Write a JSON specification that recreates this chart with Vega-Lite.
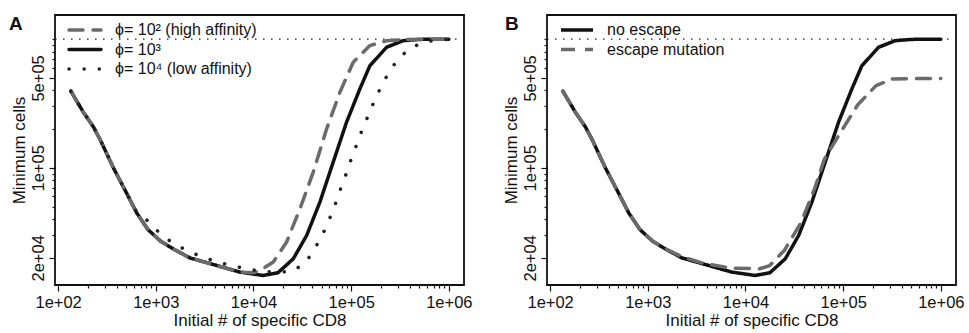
{
  "$schema": "https://vega.github.io/schema/vega-lite/v6.json",
  "padding": {"left": 8, "top": 14, "right": 0, "bottom": 0},
  "spacing": 28,
  "config": {
    "font": "Liberation Sans",
    "view": {"stroke": "#111111", "strokeWidth": 1.8},
    "axis": {
      "labelFont": "Liberation Sans", "labelFontSize": 16.5, "labelColor": "#111111",
      "titleFont": "Liberation Sans", "titleFontSize": 17, "titleFontWeight": "normal", "titleColor": "#111111",
      "tickColor": "#111111", "tickWidth": 1.2, "domain": false, "grid": false,
      "labelOverlap": false, "labelFlush": false, "labelBound": false
    },
    "legend": {
      "labelFont": "Liberation Sans", "labelFontSize": 16, "labelColor": "#111111"
    },
    "title": {"fontSize": 19, "fontWeight": "bold", "anchor": "start", "frame": "group", "offset": 0, "baseline": "alphabetic", "color": "#111111", "font": "Liberation Sans"}
  },
  "datasets": {
    "a": [
      {"series": "ϕ= 10³", "x": 135, "y": 394457},
      {"series": "ϕ= 10³", "x": 182, "y": 269153},
      {"series": "ϕ= 10³", "x": 229, "y": 208930},
      {"series": "ϕ= 10³", "x": 269, "y": 165959},
      {"series": "ϕ= 10³", "x": 368, "y": 100000},
      {"series": "ϕ= 10³", "x": 505, "y": 63096},
      {"series": "ϕ= 10³", "x": 638, "y": 44668},
      {"series": "ϕ= 10³", "x": 832, "y": 33113},
      {"series": "ϕ= 10³", "x": 1122, "y": 26915},
      {"series": "ϕ= 10³", "x": 1514, "y": 23442},
      {"series": "ϕ= 10³", "x": 2239, "y": 19953},
      {"series": "ϕ= 10³", "x": 3631, "y": 17989},
      {"series": "ϕ= 10³", "x": 7244, "y": 15488},
      {"series": "ϕ= 10³", "x": 12589, "y": 14588},
      {"series": "ϕ= 10³", "x": 17783, "y": 15311},
      {"series": "ϕ= 10³", "x": 25527, "y": 19634},
      {"series": "ϕ= 10³", "x": 34995, "y": 29785},
      {"series": "ϕ= 10³", "x": 47863, "y": 54200},
      {"series": "ϕ= 10³", "x": 65464, "y": 110662},
      {"series": "ϕ= 10³", "x": 89743, "y": 226464},
      {"series": "ϕ= 10³", "x": 122744, "y": 410204},
      {"series": "ϕ= 10³", "x": 155597, "y": 622300},
      {"series": "ϕ= 10³", "x": 230675, "y": 864968},
      {"series": "ϕ= 10³", "x": 341193, "y": 972747},
      {"series": "ϕ= 10³", "x": 501187, "y": 995405},
      {"series": "ϕ= 10³", "x": 1000000, "y": 1000000},

      {"series": "ϕ= 10² (high affinity)", "x": 135, "y": 394457},
      {"series": "ϕ= 10² (high affinity)", "x": 182, "y": 269153},
      {"series": "ϕ= 10² (high affinity)", "x": 229, "y": 208930},
      {"series": "ϕ= 10² (high affinity)", "x": 269, "y": 165959},
      {"series": "ϕ= 10² (high affinity)", "x": 368, "y": 100000},
      {"series": "ϕ= 10² (high affinity)", "x": 505, "y": 63096},
      {"series": "ϕ= 10² (high affinity)", "x": 638, "y": 44668},
      {"series": "ϕ= 10² (high affinity)", "x": 832, "y": 33113},
      {"series": "ϕ= 10² (high affinity)", "x": 1122, "y": 26915},
      {"series": "ϕ= 10² (high affinity)", "x": 1514, "y": 23442},
      {"series": "ϕ= 10² (high affinity)", "x": 2239, "y": 19953},
      {"series": "ϕ= 10² (high affinity)", "x": 3631, "y": 17989},
      {"series": "ϕ= 10² (high affinity)", "x": 7244, "y": 15488},
      {"series": "ϕ= 10² (high affinity)", "x": 10000, "y": 15311},
      {"series": "ϕ= 10² (high affinity)", "x": 11668, "y": 15959},
      {"series": "ϕ= 10² (high affinity)", "x": 15959, "y": 18535},
      {"series": "ϕ= 10² (high affinity)", "x": 21827, "y": 26485},
      {"series": "ϕ= 10² (high affinity)", "x": 29923, "y": 48084},
      {"series": "ϕ= 10² (high affinity)", "x": 40926, "y": 92683},
      {"series": "ϕ= 10² (high affinity)", "x": 56105, "y": 200909},
      {"series": "ϕ= 10² (high affinity)", "x": 76736, "y": 387258},
      {"series": "ϕ= 10² (high affinity)", "x": 104954, "y": 662217},
      {"series": "ϕ= 10² (high affinity)", "x": 155597, "y": 891251},
      {"series": "ϕ= 10² (high affinity)", "x": 230675, "y": 972747},
      {"series": "ϕ= 10² (high affinity)", "x": 398107, "y": 995405},
      {"series": "ϕ= 10² (high affinity)", "x": 1000000, "y": 1000000},

      {"series": "ϕ= 10⁴ (low affinity)", "x": 135, "y": 394457},
      {"series": "ϕ= 10⁴ (low affinity)", "x": 182, "y": 269153},
      {"series": "ϕ= 10⁴ (low affinity)", "x": 229, "y": 208930},
      {"series": "ϕ= 10⁴ (low affinity)", "x": 269, "y": 165959},
      {"series": "ϕ= 10⁴ (low affinity)", "x": 368, "y": 100000},
      {"series": "ϕ= 10⁴ (low affinity)", "x": 505, "y": 63096},
      {"series": "ϕ= 10⁴ (low affinity)", "x": 631, "y": 45709},
      {"series": "ϕ= 10⁴ (low affinity)", "x": 759, "y": 41400},
      {"series": "ϕ= 10⁴ (low affinity)", "x": 982, "y": 33574},
      {"series": "ϕ= 10⁴ (low affinity)", "x": 1324, "y": 27733},
      {"series": "ϕ= 10⁴ (low affinity)", "x": 1841, "y": 23933},
      {"series": "ϕ= 10⁴ (low affinity)", "x": 2624, "y": 21135},
      {"series": "ϕ= 10⁴ (low affinity)", "x": 3733, "y": 19187},
      {"series": "ϕ= 10⁴ (low affinity)", "x": 5358, "y": 17742},
      {"series": "ϕ= 10⁴ (low affinity)", "x": 7870, "y": 16634},
      {"series": "ϕ= 10⁴ (low affinity)", "x": 11482, "y": 15776},
      {"series": "ϕ= 10⁴ (low affinity)", "x": 17783, "y": 15488},
      {"series": "ϕ= 10⁴ (low affinity)", "x": 24604, "y": 15668},
      {"series": "ϕ= 10⁴ (low affinity)", "x": 33884, "y": 18197},
      {"series": "ϕ= 10⁴ (low affinity)", "x": 41591, "y": 23067},
      {"series": "ϕ= 10⁴ (low affinity)", "x": 50234, "y": 29512},
      {"series": "ϕ= 10⁴ (low affinity)", "x": 58749, "y": 38548},
      {"series": "ϕ= 10⁴ (low affinity)", "x": 67764, "y": 50466},
      {"series": "ϕ= 10⁴ (low affinity)", "x": 76736, "y": 66681},
      {"series": "ϕ= 10⁴ (low affinity)", "x": 87700, "y": 87096},
      {"series": "ϕ= 10⁴ (low affinity)", "x": 99312, "y": 114815},
      {"series": "ϕ= 10⁴ (low affinity)", "x": 113763, "y": 151705},
      {"series": "ϕ= 10⁴ (low affinity)", "x": 129718, "y": 198153},
      {"series": "ϕ= 10⁴ (low affinity)", "x": 151008, "y": 259418},
      {"series": "ϕ= 10⁴ (low affinity)", "x": 174985, "y": 338844},
      {"series": "ϕ= 10⁴ (low affinity)", "x": 206538, "y": 440555},
      {"series": "ϕ= 10⁴ (low affinity)", "x": 248886, "y": 568853},
      {"series": "ϕ= 10⁴ (low affinity)", "x": 310456, "y": 717794},
      {"series": "ϕ= 10⁴ (low affinity)", "x": 414954, "y": 864968},
      {"series": "ϕ= 10⁴ (low affinity)", "x": 591562, "y": 957194},
      {"series": "ϕ= 10⁴ (low affinity)", "x": 1000000, "y": 1000000}
    ],
    "b": [
      {"series": "no escape", "x": 135, "y": 394457},
      {"series": "no escape", "x": 182, "y": 269153},
      {"series": "no escape", "x": 229, "y": 208930},
      {"series": "no escape", "x": 269, "y": 165959},
      {"series": "no escape", "x": 368, "y": 100000},
      {"series": "no escape", "x": 505, "y": 63096},
      {"series": "no escape", "x": 638, "y": 44668},
      {"series": "no escape", "x": 832, "y": 33113},
      {"series": "no escape", "x": 1122, "y": 26915},
      {"series": "no escape", "x": 1514, "y": 23442},
      {"series": "no escape", "x": 2239, "y": 19953},
      {"series": "no escape", "x": 3631, "y": 17989},
      {"series": "no escape", "x": 7244, "y": 15488},
      {"series": "no escape", "x": 12589, "y": 14588},
      {"series": "no escape", "x": 17783, "y": 15311},
      {"series": "no escape", "x": 25527, "y": 19634},
      {"series": "no escape", "x": 34995, "y": 29785},
      {"series": "no escape", "x": 47863, "y": 54200},
      {"series": "no escape", "x": 65464, "y": 110662},
      {"series": "no escape", "x": 89743, "y": 226464},
      {"series": "no escape", "x": 122744, "y": 410204},
      {"series": "no escape", "x": 155597, "y": 622300},
      {"series": "no escape", "x": 230675, "y": 864968},
      {"series": "no escape", "x": 341193, "y": 972747},
      {"series": "no escape", "x": 501187, "y": 995405},
      {"series": "no escape", "x": 1000000, "y": 1000000},

      {"series": "escape mutation", "x": 135, "y": 394457},
      {"series": "escape mutation", "x": 182, "y": 269153},
      {"series": "escape mutation", "x": 229, "y": 208930},
      {"series": "escape mutation", "x": 269, "y": 165959},
      {"series": "escape mutation", "x": 368, "y": 100000},
      {"series": "escape mutation", "x": 505, "y": 63096},
      {"series": "escape mutation", "x": 638, "y": 44668},
      {"series": "escape mutation", "x": 832, "y": 33113},
      {"series": "escape mutation", "x": 1122, "y": 26915},
      {"series": "escape mutation", "x": 1514, "y": 23442},
      {"series": "escape mutation", "x": 2239, "y": 20417},
      {"series": "escape mutation", "x": 3631, "y": 18197},
      {"series": "escape mutation", "x": 6918, "y": 16634},
      {"series": "escape mutation", "x": 13996, "y": 16444},
      {"series": "escape mutation", "x": 17701, "y": 17418},
      {"series": "escape mutation", "x": 25119, "y": 22909},
      {"series": "escape mutation", "x": 37239, "y": 37844},
      {"series": "escape mutation", "x": 50933, "y": 68707},
      {"series": "escape mutation", "x": 64417, "y": 117490},
      {"series": "escape mutation", "x": 96605, "y": 194984},
      {"series": "escape mutation", "x": 141254, "y": 309030},
      {"series": "escape mutation", "x": 217270, "y": 435512},
      {"series": "escape mutation", "x": 321366, "y": 490908},
      {"series": "escape mutation", "x": 514044, "y": 493174},
      {"series": "escape mutation", "x": 1000000, "y": 495450}
    ]
  },
  "hconcat": [
    {
      "width": 409,
      "height": 270,
      "view": {"stroke": "#111111", "strokeWidth": 1.8},
      "title": {"text": "A", "dx": -46, "dy": 23},
      "layer": [
        {
          "data": {"values": [{}]},
          "mark": {"type": "rule", "strokeDash": [1.5, 6.5], "strokeWidth": 1.4, "color": "#222222"},
          "encoding": {
            "x": {"datum": 92.9, "type": "quantitative", "scale": {"type": "log", "domain": [92.9, 1430000], "nice": false},
              "axis": {"orient": "bottom", "title": null, "labels": false, "tickSize": 3,
                "values": [200,300,400,500,600,700,800,900,2000,3000,4000,5000,6000,7000,8000,9000,20000,30000,40000,50000,60000,70000,80000,90000,200000,300000,400000,500000,600000,700000,800000,900000]}},
            "x2": {"datum": 1430000},
            "y": {"datum": 1000000, "type": "quantitative", "scale": {"type": "log", "domain": [12300, 1540000], "nice": false},
              "axis": {"orient": "left", "title": null, "labels": false, "tickSize": 3,
                "values": [30000,40000,50000,60000,70000,80000,90000,200000,300000,400000,600000,700000,800000,900000,1000000]}}
          }
        },
        {
          "data": {"name": "a"},
          "mark": {"type": "line", "strokeWidth": 3.5, "strokeCap": "round", "strokeJoin": "round"},
          "encoding": {
            "x": {
              "field": "x", "type": "quantitative",
              "scale": {"type": "log", "domain": [92.9, 1430000], "nice": false},
              "axis": {
                "orient": "bottom",
                "title": "Initial # of specific CD8",
                "values": [100, 1000, 10000, 100000, 1000000],
                "labelExpr": "replace(format(datum.value, '.0e'), '+', '+0')",
                "tickSize": 6,
                "labelPadding": 3,
                "titlePadding": 2
              }
            },
            "y": {
              "field": "y", "type": "quantitative",
              "scale": {"type": "log", "domain": [12300, 1540000], "nice": false},
              "axis": {
                "orient": "left",
                "title": "Minimum cells",
                "values": [20000, 100000, 500000],
                "labelExpr": "replace(format(datum.value, '.0e'), '+', '+0')",
                "tickSize": 6,
                "labelAngle": 270,
                "labelPadding": 3,
                "titlePadding": 2
              }
            },
            "color": {
              "field": "series", "type": "nominal",
              "scale": {"domain": ["ϕ= 10² (high affinity)", "ϕ= 10³", "ϕ= 10⁴ (low affinity)"], "range": ["#6b6b6b", "#111111", "#222222"]},
              "legend": {"orient": "none", "legendX": 20, "legendY": 5, "title": null, "symbolType": "M-2,0H2", "symbolSize": 256, "symbolStrokeWidth": 3.5, "labelOffset": 20, "rowPadding": 1.5, "labelLimit": 300, "encode": {"symbols": {"update": {"strokeCap": {"value": "round"}}}}}
            },
            "strokeDash": {
              "field": "series", "type": "nominal",
              "scale": {"domain": ["ϕ= 10² (high affinity)", "ϕ= 10³", "ϕ= 10⁴ (low affinity)"], "range": [[14, 10], [1, 0], [0.1, 15]]},
              "legend": {"orient": "none", "legendX": 20, "legendY": 5, "title": null, "symbolType": "M-2,0H2", "symbolSize": 256, "symbolStrokeWidth": 3.5, "labelOffset": 20, "rowPadding": 1.5, "labelLimit": 300, "encode": {"symbols": {"update": {"strokeCap": {"value": "round"}}}}}
            }
          }
        }
      ],
      "resolve": {"axis": {"x": "independent", "y": "independent"}}
    },
    {
      "width": 409,
      "height": 270,
      "view": {"stroke": "#111111", "strokeWidth": 1.8},
      "title": {"text": "B", "dx": -42, "dy": 23},
      "layer": [
        {
          "data": {"values": [{}]},
          "mark": {"type": "rule", "strokeDash": [1.5, 6.5], "strokeWidth": 1.4, "color": "#222222"},
          "encoding": {
            "x": {"datum": 92.9, "type": "quantitative", "scale": {"type": "log", "domain": [92.9, 1430000], "nice": false},
              "axis": {"orient": "bottom", "title": null, "labels": false, "tickSize": 3,
                "values": [200,300,400,500,600,700,800,900,2000,3000,4000,5000,6000,7000,8000,9000,20000,30000,40000,50000,60000,70000,80000,90000,200000,300000,400000,500000,600000,700000,800000,900000]}},
            "x2": {"datum": 1430000},
            "y": {"datum": 1000000, "type": "quantitative", "scale": {"type": "log", "domain": [12300, 1540000], "nice": false},
              "axis": {"orient": "left", "title": null, "labels": false, "tickSize": 3,
                "values": [30000,40000,50000,60000,70000,80000,90000,200000,300000,400000,600000,700000,800000,900000,1000000]}}
          }
        },
        {
          "data": {"name": "b"},
          "mark": {"type": "line", "strokeWidth": 3.5, "strokeCap": "round", "strokeJoin": "round"},
          "encoding": {
            "x": {
              "field": "x", "type": "quantitative",
              "scale": {"type": "log", "domain": [92.9, 1430000], "nice": false},
              "axis": {
                "orient": "bottom",
                "title": "Initial # of specific CD8",
                "values": [100, 1000, 10000, 100000, 1000000],
                "labelExpr": "replace(format(datum.value, '.0e'), '+', '+0')",
                "tickSize": 6,
                "labelPadding": 3,
                "titlePadding": 2
              }
            },
            "y": {
              "field": "y", "type": "quantitative",
              "scale": {"type": "log", "domain": [12300, 1540000], "nice": false},
              "axis": {
                "orient": "left",
                "title": "Minimum cells",
                "values": [20000, 100000, 500000],
                "labelExpr": "replace(format(datum.value, '.0e'), '+', '+0')",
                "tickSize": 6,
                "labelAngle": 270,
                "labelPadding": 3,
                "titlePadding": 2
              }
            },
            "color": {
              "field": "series", "type": "nominal",
              "scale": {"domain": ["no escape", "escape mutation"], "range": ["#111111", "#6b6b6b"]},
              "legend": {"orient": "none", "legendX": 20, "legendY": 5, "title": null, "symbolType": "M-2,0H2", "symbolSize": 256, "symbolStrokeWidth": 3.5, "labelOffset": 20, "rowPadding": 1.5, "labelLimit": 300}
            },
            "strokeDash": {
              "field": "series", "type": "nominal",
              "scale": {"domain": ["no escape", "escape mutation"], "range": [[1, 0], [14, 10]]},
              "legend": {"orient": "none", "legendX": 20, "legendY": 5, "title": null, "symbolType": "M-2,0H2", "symbolSize": 256, "symbolStrokeWidth": 3.5, "labelOffset": 20, "rowPadding": 1.5, "labelLimit": 300}
            }
          }
        }
      ],
      "resolve": {"axis": {"x": "independent", "y": "independent"}}
    }
  ],
  "resolve": {"scale": {"color": "independent", "strokeDash": "independent"}, "legend": {"color": "independent", "strokeDash": "independent"}}
}
